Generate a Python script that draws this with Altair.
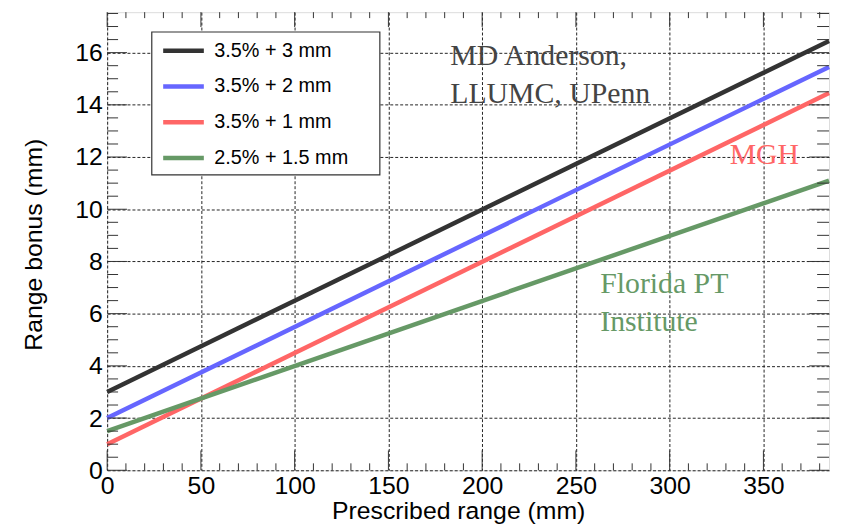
import altair as alt
import pandas as pd

# ---- data ----
series = ["3.5% + 3 mm", "3.5% + 2 mm", "3.5% + 1 mm", "2.5% + 1.5 mm"]
colors = ["#333333", "#6666ff", "#ff6666", "#669966"]
x_start = [0, 0, 0, 0]
x_end = [385, 385, 385, 385]
y_start = [3.0, 2.0, 1.0, 1.5]
y_end = [16.45, 15.45, 14.45, 11.1]

x_major = [0, 50, 100, 150, 200, 250, 300, 350]
x_minor = [v for v in range(0, 390, 10) if v not in x_major]
y_major = [0, 2, 4, 6, 8, 10, 12, 14, 16]
y_minor = [v / 2 for v in range(0, 36) if (v / 2) not in y_major]

ann_gray_text = ["MD Anderson,", "LLUMC, UPenn"]
ann_gray_x = [183, 183]
ann_gray_y = [15.54, 14.06]
ann_red_text = ["MGH"]
ann_red_x = [332]
ann_red_y = [11.74]
ann_green_text = ["Florida PT", "Institute"]
ann_green_x = [263, 263]
ann_green_y = [6.79, 5.33]

W, H = 728, 462
XDOM = [0, 385]
YDOM = [0, 17.55]

rows = []
for s, x0, x1, y0, y1 in zip(series, x_start, x_end, y_start, y_end):
    rows.append({"series": s, "x": x0, "y": y0})
    rows.append({"series": s, "x": x1, "y": y1})
lines_df = pd.DataFrame(rows)

xs = alt.Scale(domain=XDOM, nice=False, zero=False)
ys = alt.Scale(domain=YDOM, nice=False, zero=False)

AXF = "Liberation Sans"

x_axis = alt.Axis(
    values=x_major, grid=True, gridDash=[3, 2], gridColor="#222", gridWidth=1,
    ticks=False, domain=False, labelFont=AXF, labelFontSize=25, labelColor="#000",
    labelPadding=3, labelFlush=False,
    title="Prescribed range (mm)", titleFont=AXF, titleFontSize=25, titleFontWeight="normal",
    titleColor="#000", titleX=354, titleY=49, titleAlign="center", titleBaseline="alphabetic",
)
y_axis = alt.Axis(
    values=y_major, grid=True, gridDash=[3, 2], gridColor="#222", gridWidth=1,
    ticks=False, domain=False, labelFont=AXF, labelFontSize=25, labelColor="#000",
    labelPadding=5, labelFlush=False,
    title="Range bonus (mm)", titleFont=AXF, titleFontSize=25, titleFontWeight="normal",
    titleColor="#000", titleX=-66, titleY=H / 2 + 3, titleAngle=-90, titleAlign="center",
    titleBaseline="alphabetic",
)

lines = alt.Chart(lines_df).mark_line(strokeWidth=4.5, strokeCap="butt").encode(
    x=alt.X("x:Q", scale=xs, axis=x_axis),
    y=alt.Y("y:Q", scale=ys, axis=y_axis),
    color=alt.Color(
        "series:N",
        scale=alt.Scale(domain=series, range=colors),
        sort=series,
        legend=alt.Legend(
            title=None, orient="none", legendX=45, legendY=7,
            symbolType="stroke", symbolStrokeWidth=4.5, symbolSize=1681,
            labelFont=AXF, labelFontSize=20, labelColor="#000", labelOffset=8,
            rowPadding=3, padding=9, strokeColor="transparent", fillColor="transparent",
            symbolOffset=0, labelLimit=300,
        ),
    ),
    detail="series:N",
)

legend_box = alt.Chart(pd.DataFrame({"k": [0]})).mark_rect(
    fill="white", stroke="#333", strokeWidth=1.2
).encode(x=alt.value(45), x2=alt.value(275), y=alt.value(20), y2=alt.value(164))

def tick_layer(vals, axis, length, side):
    df = pd.DataFrame({"v": vals})
    m = alt.Chart(df).mark_rule(color="#333", strokeWidth=1)
    if axis == "x":
        if side == "bottom":
            return m.encode(x=alt.X("v:Q", scale=xs), y=alt.value(H), y2=alt.value(H - length))
        return m.encode(x=alt.X("v:Q", scale=xs), y=alt.value(0), y2=alt.value(length))
    if side == "left":
        return m.encode(y=alt.Y("v:Q", scale=ys), x=alt.value(0), x2=alt.value(length))
    return m.encode(y=alt.Y("v:Q", scale=ys), x=alt.value(W), x2=alt.value(W - length))

ticks = [
    tick_layer(x_major, "x", 20, "bottom"),
    tick_layer(x_minor, "x", 7, "bottom"),
    tick_layer(x_major, "x", 15, "top"),
    tick_layer(x_minor, "x", 6, "top"),
    tick_layer(y_major, "y", 20, "left"),
    tick_layer(y_minor, "y", 11, "left"),
    tick_layer(y_major, "y", 20, "right"),
    tick_layer(y_minor, "y", 12, "right"),
]

def ann_layer(texts, xv, yv, color):
    df = pd.DataFrame({"t": texts, "x": xv, "y": yv})
    return alt.Chart(df).mark_text(
        font="Liberation Serif", fontSize=30, color=color, align="left", baseline="alphabetic"
    ).encode(x=alt.X("x:Q", scale=xs), y=alt.Y("y:Q", scale=ys), text="t:N")

anns = [
    ann_layer(ann_gray_text, ann_gray_x, ann_gray_y, "#444444"),
    ann_layer(ann_red_text, ann_red_x, ann_red_y, "#ff6666"),
    ann_layer(ann_green_text, ann_green_x, ann_green_y, "#669966"),
]

chart = alt.layer(lines, *ticks, *anns, legend_box).properties(
    width=W, height=H,
    autosize=alt.AutoSizeParams(type="none"),
    padding={"left": 100, "top": 2, "right": 4, "bottom": 56},
).configure_view(stroke="#333", strokeWidth=1.5).configure(background="white")

chart.save("out.html", embed_options={"renderer": "svg", "actions": False})
